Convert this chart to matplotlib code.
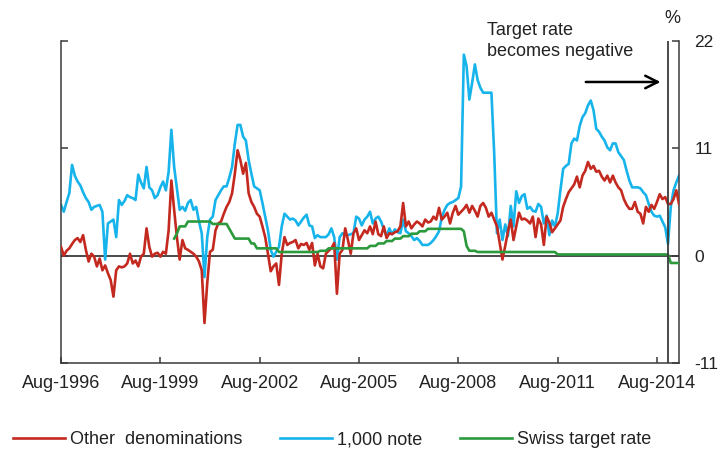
import matplotlib.pyplot as plt
import numpy as np
import pandas as pd

plt.rcParams['font.family'] = ['Liberation Sans', 'DejaVu Sans']
plt.rcParams['axes.unicode_minus'] = False

# monthly growth rates (%), Aug-1996 .. Apr-2015
other = [
    0.9, 0.0, 0.5, 0.75, 1.2, 1.6, 1.8, 1.4, 2.1, 0.6, -0.6, 0.2,
    -0.1, -1.1, -0.3, -1.5, -1.0, -1.8, -2.5, -4.2, -1.5, -1.1, -1.2, -1.1,
    -0.8, 0.2, -0.8, -0.5, -1.1, -0.1, 0.2, 2.8, 0.9, -0.1, 0.2, 0.3,
    -0.1, 0.4, 0.2, 2.6, 7.7, 4.7, 1.9, -0.4, 1.6, 0.75, 0.6, 0.4,
    0.2, -0.1, -0.6, -1.5, -6.9, -2.8, 0.4, 0.6, 2.6, 3.3, 3.5, 4.3,
    5.0, 5.5, 6.4, 8.4, 10.8, 9.8, 8.4, 9.5, 6.4, 5.5, 5.0, 4.3,
    4.0, 3.0, 1.9, 0.2, -1.6, -1.1, -0.8, -3.0, 0.2, 1.9, 1.1, 1.3,
    1.4, 1.6, 0.75, 1.2, 1.1, 1.3, 0.6, 1.3, -1.0, 0.2, -1.1, -1.3,
    0.2, 0.5, 0.75, 1.3, -3.9, 0.2, 0.6, 2.8, 1.6, 0.2, 2.3, 2.8,
    1.6, 2.1, 2.6, 2.3, 3.0, 2.2, 3.5, 2.2, 2.0, 3.0, 1.8, 2.3,
    2.2, 2.4, 2.5, 3.0, 5.4, 3.0, 3.5, 2.8, 3.2, 3.5, 3.3, 3.0,
    3.7, 3.4, 3.5, 4.0, 3.7, 4.9, 3.7, 4.0, 4.4, 3.3, 4.4, 5.1,
    4.2, 4.5, 4.8, 5.2, 4.4, 5.1, 4.6, 4.0, 5.1, 5.4, 4.9, 4.0,
    4.4, 3.7, 3.0, 1.3, -0.4, 1.0, 2.5, 3.7, 1.6, 3.0, 4.4, 3.7,
    3.8, 3.6, 3.3, 4.0, 1.9, 3.8, 3.2, 1.1, 4.0, 3.4, 2.4, 2.8,
    3.2, 3.6, 5.0, 5.8, 6.5, 6.9, 7.3, 8.1, 7.0, 8.2, 8.7, 9.6,
    8.9, 9.2, 8.6, 8.7, 8.1, 7.7, 8.2, 7.5, 8.2, 7.5, 7.0, 6.7,
    5.8, 5.2, 4.8, 4.8, 5.5, 4.5, 4.3, 3.3, 5.0, 4.5, 5.2, 4.8,
    5.5, 6.3, 5.8, 6.0, 5.3, 5.3, 5.8, 6.7, 5.3,
]

note1000 = [
    5.2, 4.5, 5.5, 6.4, 9.3, 8.2, 7.6, 7.2, 6.5, 5.9, 5.5, 4.7,
    5.0, 5.1, 5.2, 4.5, -0.4, 3.3, 3.5, 3.7, 1.9, 5.7, 5.2, 5.6,
    6.2, 6.0, 5.9, 5.7, 8.3, 7.5, 6.9, 9.1, 7.0, 6.7, 5.9, 6.2,
    7.0, 7.6, 6.7, 8.6, 12.9, 9.1, 6.9, 4.7, 5.0, 4.6, 5.4, 5.7,
    4.7, 5.0, 3.5, 2.3, -2.2, 1.9, 3.7, 4.0, 5.7, 6.2, 6.7, 7.1,
    7.1, 8.0, 9.1, 11.5, 13.4, 13.4, 12.2, 11.8, 9.8, 8.4, 7.1, 6.9,
    6.7, 5.4, 4.0, 2.6, 0.6, -0.1, 0.4, 0.9, 3.0, 4.3, 4.0, 3.7,
    3.8, 3.6, 3.1, 3.5, 3.9, 4.2, 3.1, 3.0, 1.8, 2.1, 1.9, 1.9,
    1.9, 2.2, 2.8, 1.9, -0.4, 1.9, 2.3, 2.2, 2.1, 2.2, 2.3, 4.0,
    3.8, 3.1, 3.7, 4.0, 4.5, 3.3, 3.8, 4.0, 3.5, 2.7, 2.0, 2.8,
    2.2, 2.7, 2.4, 2.3, 3.7, 2.5, 2.3, 2.0, 1.6, 1.8, 1.5, 1.1,
    1.1, 1.1, 1.3, 1.6, 2.0, 2.5, 3.9, 4.7, 5.2, 5.4, 5.5, 5.7,
    5.9, 7.1, 20.6, 19.4, 16.0, 17.7, 19.6, 18.0, 17.2, 16.7, 16.7, 16.7,
    16.7, 10.5, 2.3, 3.7, 1.6, 3.2, 2.0, 5.1, 3.0, 6.6, 5.4, 6.1,
    6.3, 4.8, 5.0, 4.6, 4.5, 5.3, 5.0, 3.3, 4.1, 2.1, 3.6, 3.0,
    4.3, 6.7, 8.9, 9.2, 9.4, 11.5, 12.0, 11.8, 13.3, 14.2, 14.6, 15.4,
    15.9, 14.9, 13.0, 12.7, 12.2, 11.8, 11.1, 10.8, 11.5, 11.5, 10.6, 10.2,
    9.8, 8.7, 7.7, 7.0, 7.0, 7.0, 6.9, 6.5, 6.2, 5.3, 4.5, 4.1,
    4.0, 4.1, 3.5, 2.9, 1.2, 5.0, 6.7, 7.5, 8.2,
]

# SNB target rate (midpoint of range), from Jan-2000
target = ([np.nan] * 41 + [1.75, 2.25, 3.0, 3.0, 3.0] + [3.5] * 9 + [3.25] * 6
          + [2.75, 2.25] + [1.75] * 6 + [1.25] * 2 + [0.75] * 8 + [0.375] * 15
          + [0.5] * 3 + [0.75] * 15 + [1.0] * 3 + [1.25] * 3 + [1.5] * 3
          + [1.75] * 3 + [2.0] * 3 + [2.25] * 3 + [2.5] * 3 + [2.75] * 13
          + [2.5, 1.0] + [0.5] * 3 + [0.375] * 29 + [0.125] * 41 + [-0.75] * 4)

dates = pd.date_range('1996-08-01', periods=len(other), freq='MS')
x = np.arange(len(dates))
neg_date = pd.Timestamp('2014-12-01')

red = '#C4291F'
blue = '#17B4EC'
green = '#2B9A3C'
dark = '#3A3A3A'

fig = plt.figure(figsize=(7.23, 4.55), dpi=100)
ax = fig.add_axes([0.0844, 0.2022, 0.8548, 0.7077])

ax.axhline(0, color=dark, lw=1.3, zorder=1)
ax.plot(x, other, color=red, lw=1.9, label='Other  denominations', zorder=3)
ax.plot(x, note1000, color=blue, lw=1.9, label='1,000 note', zorder=2)
ax.plot(x, target, color=green, lw=1.9, label='Swiss target rate', zorder=4)
xn = dates.get_loc(neg_date)
ax.axvline(xn, color=dark, lw=1.3, zorder=5)

ax.set_xlim(0, len(x) - 1)
ax.set_ylim(-11, 22)

yt = [22, 11, 0, -11]
ax.set_yticks(yt)
ax.yaxis.set_ticks_position('both')
ax.tick_params(axis='y', direction='in', length=5, width=1.1, color=dark,
               labelleft=False, labelright=True, labelsize=12.5, pad=11,
               labelcolor='#222222')

ticks = [i for i, d in enumerate(dates) if d.month == 8 and (d.year - 1996) % 3 == 0]
ax.set_xticks(ticks)
ax.set_xticklabels([d.strftime('%b-%Y') for d in dates[ticks]])
ax.tick_params(axis='x', direction='in', length=4, width=1.1, color=dark,
               labelsize=13, pad=9, labelcolor='#222222')

ax.spines['top'].set_visible(False)
for s in ['left', 'right', 'bottom']:
    ax.spines[s].set_color(dark)
    ax.spines[s].set_linewidth(1.1)

ax.text(0.9887, 1.071, '%', transform=ax.transAxes, ha='center', va='center',
        fontsize=13, color='#222222')
ax.text(154.4, 22.0, 'Target rate\nbecomes negative', ha='left', va='center',
        fontsize=13, color='#222222', linespacing=1.25, clip_on=False)
ax.annotate('', xy=(218.3, 17.8), xytext=(189.2, 17.8),
            arrowprops=dict(arrowstyle='->,head_length=0.9,head_width=0.45',
                            color='black', lw=1.8))

fig.legend(loc='center', bbox_to_anchor=(0.459, 0.033), ncol=3, frameon=False,
           fontsize=13, handlelength=2.9, handletextpad=0.25, columnspacing=2.1,
           labelcolor='#222222')

fig.savefig('out.png', dpi=100)
